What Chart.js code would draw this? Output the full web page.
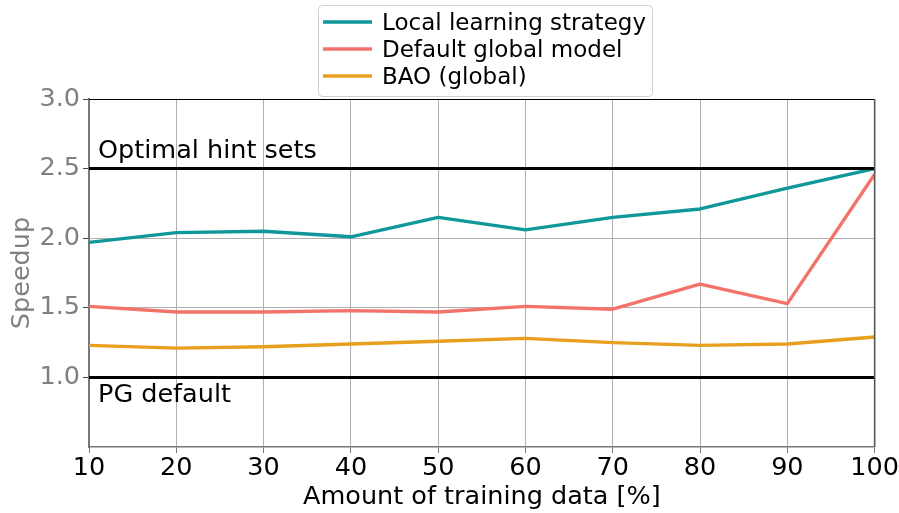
<!DOCTYPE html>
<html>
<head>
<meta charset="utf-8">
<script src="https://cdn.jsdelivr.net/npm/chart.js@4/dist/chart.umd.min.js"></script>
<style>
  html, body { margin: 0; padding: 0; background: #fff; }
  #wrap { width: 899px; height: 513px; position: relative; }
</style>
</head>
<body>
<div id="wrap"><canvas id="c" width="899" height="513"></canvas></div>
<script>
// Training data share (%) on the x axis
const trainingShare = [10, 20, 30, 40, 50, 60, 70, 80, 90, 100];
// Speedup per strategy
const localLearning = [1.97, 2.04, 2.05, 2.01, 2.15, 2.06, 2.15, 2.21, 2.36, 2.50];
const defaultGlobal = [1.51, 1.47, 1.47, 1.48, 1.47, 1.51, 1.49, 1.67, 1.53, 2.46];
const baoGlobal     = [1.23, 1.21, 1.22, 1.24, 1.26, 1.28, 1.25, 1.23, 1.24, 1.29];
// Reference levels
const optimalLevel = 2.5;
const pgDefaultLevel = 1.0;
const xTicks = [10, 20, 30, 40, 50, 60, 70, 80, 90, 100];
const yTicks = [1.0, 1.5, 2.0, 2.5, 3.0];

const seriesNames = ['Local learning strategy', 'Default global model', 'BAO (global)'];
const seriesColors = ['#10979a', '#f3736a', '#e89f1f'];
const FONT = "'DejaVu Sans', sans-serif";

const toPoints = arr => arr.map((v, i) => ({ x: trainingShare[i], y: v }));
const levelLine = v => [{ x: trainingShare[0], y: v }, { x: trainingShare[trainingShare.length - 1], y: v }];

const datasets = [
  { label: 'PG default', data: levelLine(pgDefaultLevel), borderColor: '#000', borderWidth: 3, pointRadius: 0, order: 0 },
  { label: 'Optimal hint sets', data: levelLine(optimalLevel), borderColor: '#000', borderWidth: 3, pointRadius: 0, order: 0 },
  { label: seriesNames[2], data: toPoints(baoGlobal), borderColor: seriesColors[2], borderWidth: 3.4, pointRadius: 0, order: 3 },
  { label: seriesNames[1], data: toPoints(defaultGlobal), borderColor: seriesColors[1], borderWidth: 3.4, pointRadius: 0, order: 2 },
  { label: seriesNames[0], data: toPoints(localLearning), borderColor: seriesColors[0], borderWidth: 3.4, pointRadius: 0, order: 1 }
];

// Frame, level captions and boxed legend
const decorations = {
  id: 'decorations',
  afterDatasetsDraw(chart) {
    const { ctx, chartArea: a, scales } = chart;
    ctx.save();
    // top and right frame lines
    ctx.strokeStyle = '#000';
    ctx.lineWidth = 1.2;
    ctx.beginPath();
    ctx.moveTo(a.left, a.top + 0.5);
    ctx.lineTo(a.right, a.top + 0.5);
    ctx.stroke();
    ctx.strokeStyle = '#555';
    ctx.lineWidth = 1.6;
    ctx.beginPath();
    ctx.moveTo(a.right, a.top);
    ctx.lineTo(a.right, a.bottom);
    ctx.stroke();

    // captions for the reference levels
    ctx.fillStyle = '#000';
    ctx.font = '25.5px ' + FONT;
    ctx.textAlign = 'left';
    ctx.textBaseline = 'middle';
    ctx.fillText('Optimal hint sets', a.left + 9, scales.y.getPixelForValue(optimalLevel) - 17);
    ctx.fillText('PG default', a.left + 9, scales.y.getPixelForValue(pgDefaultLevel) + 18);

    // legend
    const lx = 318, ly = 5, lw = 334, lh = 91;
    ctx.fillStyle = 'rgba(255,255,255,0.85)';
    ctx.strokeStyle = '#d0d0d0';
    ctx.lineWidth = 1;
    ctx.beginPath();
    ctx.roundRect(lx + 0.5, ly + 0.5, lw, lh, 4);
    ctx.fill();
    ctx.stroke();
    ctx.font = '23px ' + FONT;
    seriesNames.forEach((name, i) => {
      const y = ly + 19 + i * 27;
      ctx.strokeStyle = seriesColors[i];
      ctx.lineWidth = 3.4;
      ctx.beginPath();
      ctx.moveTo(lx + 5, y - 2);
      ctx.lineTo(lx + 54, y - 2);
      ctx.stroke();
      ctx.fillStyle = '#000';
      ctx.fillText(name, lx + 64, y);
    });
    ctx.restore();
  }
};

new Chart(document.getElementById('c'), {
  type: 'line',
  data: { datasets },
  options: {
    responsive: false,
    animation: false,
    layout: { padding: { left: 0, right: 24, top: 99, bottom: 0 } },
    plugins: { legend: { display: false }, tooltip: { enabled: false } },
    elements: { line: { tension: 0, borderCapStyle: 'butt', borderJoinStyle: 'round' } },
    scales: {
      x: {
        type: 'linear',
        min: 10, max: 100,
        afterBuildTicks: s => { s.ticks = xTicks.map(v => ({ value: v })); },
        afterFit: s => { s.height = 66; },
        grid: { color: '#b0b0b0', lineWidth: 1, drawTicks: true, tickLength: 6, tickColor: '#777' },
        border: { color: '#777', width: 1.5 },
        ticks: { color: '#000', font: { family: FONT, size: 25.5 }, padding: 0, maxRotation: 0 },
        title: { display: true, text: 'Amount of training data [%]', color: '#000', font: { family: FONT, size: 25.5 }, padding: { top: 0, bottom: 0 } }
      },
      y: {
        type: 'linear',
        min: 0.5, max: 3.0,
        afterBuildTicks: s => { s.ticks = yTicks.map(v => ({ value: v })); },
        afterFit: s => { s.width = 89; },
        grid: { color: '#b0b0b0', lineWidth: 1, drawTicks: true, tickLength: 6, tickColor: '#444' },
        border: { color: '#777', width: 2 },
        ticks: { color: '#808080', font: { family: FONT, size: 25.5 }, padding: 3, callback: v => v.toFixed(1) },
        title: { display: true, text: 'Speedup', color: '#808080', font: { family: FONT, size: 25.5 }, padding: { top: 7, bottom: 0 } }
      }
    }
  },
  plugins: [decorations]
});
</script>
</body>
</html>
